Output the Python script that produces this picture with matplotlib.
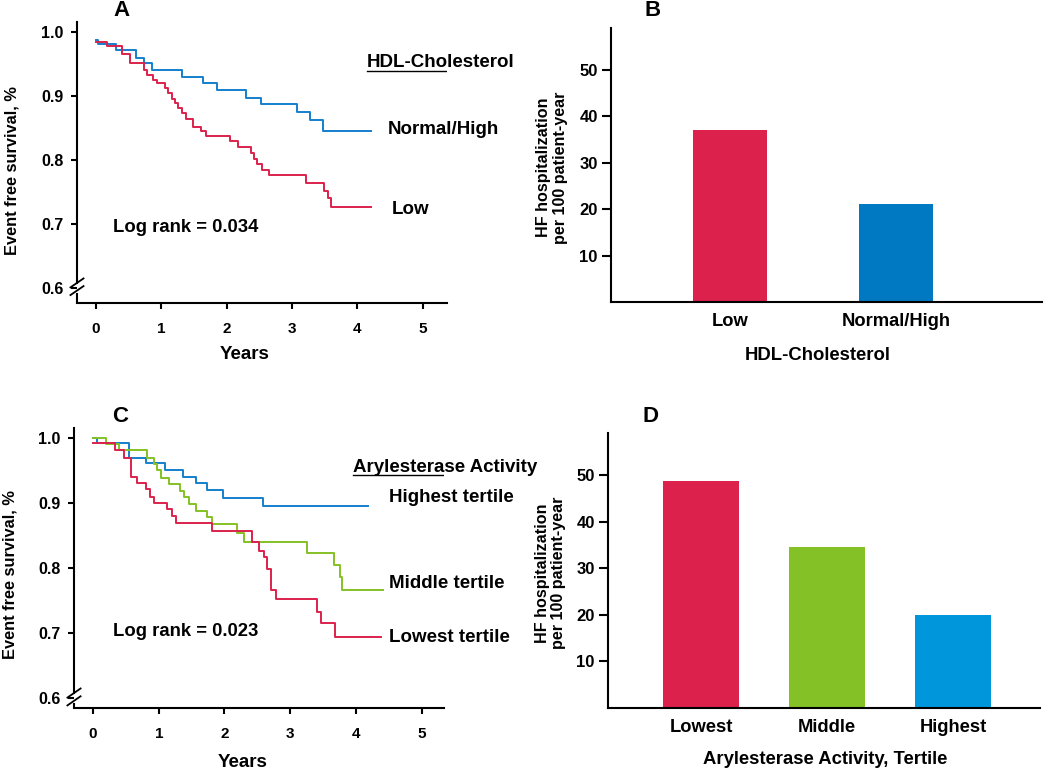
import matplotlib
matplotlib.use("Agg")
import matplotlib.pyplot as plt
import numpy as np

plt.rcParams["font.family"] = ["Liberation Sans", "DejaVu Sans"]
plt.rcParams["font.weight"] = "bold"
plt.rcParams["axes.labelweight"] = "bold"

RED = "#DC214D"
BLUE_LINE = "#1580CC"
BLUE_B = "#0079C2"
BLUE_D = "#0096DC"
GREEN = "#84C126"

# Панель A: кривые Каплана-Мейера по ЛПВП
hdl_high_t = [0, 0.03, 0.30, 0.62, 0.74, 0.86, 1.32, 1.63, 1.85, 2.29, 2.53, 3.07, 3.27, 3.47, 4.2]
hdl_high_s = [0.988, 0.982, 0.972, 0.960, 0.952, 0.940, 0.930, 0.920, 0.909, 0.897, 0.887, 0.875, 0.863, 0.846, 0.846]
hdl_low_t = [0, 0.17, 0.40, 0.52, 0.74, 0.78, 0.88, 0.93, 1.05, 1.10, 1.16, 1.21, 1.26, 1.32, 1.37,
             1.48, 1.61, 1.68, 2.05, 2.18, 2.37, 2.41, 2.47, 2.54, 2.64, 3.22, 3.49, 3.55, 3.59, 4.2]
hdl_low_s = [0.984, 0.978, 0.966, 0.952, 0.940, 0.933, 0.925, 0.920, 0.912, 0.904, 0.896, 0.889, 0.881, 0.873, 0.864,
             0.851, 0.845, 0.838, 0.829, 0.821, 0.811, 0.802, 0.794, 0.785, 0.777, 0.764, 0.752, 0.740, 0.727, 0.727]

# Панель C: кривые по терцилям арилэстеразной активности
aryl_high_t = [0, 0.06, 0.54, 0.80, 1.09, 1.37, 1.57, 1.74, 1.98, 2.58, 4.19]
aryl_high_s = [1.0, 0.992, 0.970, 0.961, 0.951, 0.940, 0.931, 0.920, 0.908, 0.895, 0.895]
aryl_mid_t = [0, 0.20, 0.39, 0.82, 0.92, 0.97, 1.04, 1.15, 1.33, 1.38, 1.46, 1.56, 1.73, 1.81,
              2.19, 2.29, 3.25, 3.66, 3.76, 3.79, 4.41]
aryl_mid_s = [1.0, 0.991, 0.981, 0.970, 0.960, 0.951, 0.939, 0.930, 0.919, 0.909, 0.898, 0.888, 0.878, 0.868,
              0.854, 0.840, 0.823, 0.805, 0.786, 0.766, 0.766]
aryl_low_t = [0, 0.34, 0.47, 0.58, 0.67, 0.81, 0.87, 0.93, 1.13, 1.20, 1.26, 1.81, 2.42, 2.52, 2.60,
              2.65, 2.70, 2.78, 3.40, 3.47, 3.68, 4.38]
aryl_low_s = [0.992, 0.982, 0.970, 0.940, 0.931, 0.922, 0.910, 0.900, 0.891, 0.880, 0.869, 0.857, 0.840, 0.827, 0.817,
              0.799, 0.767, 0.753, 0.733, 0.716, 0.694, 0.694]

# Панели B и D: частота госпитализаций
hdl_groups = ["Low", "Normal/High"]
hdl_rates = [37.0, 21.2]
aryl_groups = ["Lowest", "Middle", "Highest"]
aryl_rates = [48.7, 34.5, 20.0]

km_yticks = [0.6, 0.7, 0.8, 0.9, 1.0]
km_xticks = [0, 1, 2, 3, 4, 5]
bar_yticks = [10, 20, 30, 40, 50]

W, H = 1050, 771
fig = plt.figure(figsize=(W / 100, H / 100), dpi=100)


def px_axes(left, right, top, bottom):
    return fig.add_axes([left / W, (H - bottom) / H, (right - left) / W, (bottom - top) / H])


def style_km(ax, xlim, ylim):
    ax.set_xlim(*xlim)
    ax.set_ylim(*ylim)
    for s in ["top", "right"]:
        ax.spines[s].set_visible(False)
    for s in ["left", "bottom"]:
        ax.spines[s].set_linewidth(1.5)
    ax.set_yticks(km_yticks)
    ax.set_yticklabels([f"{v:.1f}" for v in km_yticks])
    ax.set_xticks(km_xticks)
    ax.tick_params(axis="y", length=4.5, width=1.5, pad=5, labelsize=11.5)
    ax.tick_params(axis="x", length=4.5, width=1.5, pad=9, labelsize=11)
    ax.set_ylabel("Event free survival, %", fontsize=11.8)
    ax.set_xlabel("Years", fontsize=13.5)
    ax.xaxis.label.set_va("center")
    ax.yaxis.label.set_va("center")
    # разрыв оси у значения 0.6
    ax.spines["left"].set_bounds(0.608, ylim[1])
    ax.plot([xlim[0], xlim[0]], [ylim[0], 0.592], color="black", lw=1.5, clip_on=False,
            solid_capstyle="butt")
    for dy in (0.0, 0.012):
        ax.plot([xlim[0] - 0.1, xlim[0] + 0.1], [0.589 + dy, 0.603 + dy], color="black",
                lw=1.3, clip_on=False)


def underline_text(ax, x, y, s):
    t = ax.text(x, y, s, fontsize=13.5, ha="left", va="center")
    fig.canvas.draw()
    bb = t.get_window_extent(renderer=fig.canvas.get_renderer())
    inv = ax.transData.inverted()
    (x0, y0), (x1, _) = inv.transform([(bb.x0, bb.y0), (bb.x1, bb.y0)])
    ax.plot([x0, x1], [y0 + 0.001, y0 + 0.001], color="black", lw=1.0)


def style_bar(ax, xlim):
    ax.set_xlim(*xlim)
    ax.set_ylim(0, 59)
    for s in ["top", "right"]:
        ax.spines[s].set_visible(False)
    for s in ["left", "bottom"]:
        ax.spines[s].set_linewidth(1.5)
    ax.set_yticks(bar_yticks)
    ax.tick_params(axis="y", length=6.5, width=1.5, pad=3, labelsize=12)
    ax.tick_params(axis="x", length=0, pad=8, labelsize=13.2)
    ax.set_ylabel("HF hospitalization\nper 100 patient-year", fontsize=11.6, linespacing=1.1)
    ax.xaxis.label.set_va("center")
    ax.yaxis.label.set_va("center")


# ---- A ----
axA = px_axes(77, 447, 22, 303)
axA.step(hdl_high_t, hdl_high_s, where="post", color=BLUE_LINE, lw=1.4)
axA.step(hdl_low_t, hdl_low_s, where="post", color=RED, lw=1.4)
style_km(axA, (-0.29, 5.37), (0.5766, 1.0156))
axA.yaxis.set_label_coords(-0.176, 0.473)
axA.xaxis.set_label_coords(0.454, -0.185)
axA.text(4.46, 0.847, "Normal/High", fontsize=13.5, ha="left", va="center")
axA.text(4.52, 0.722, "Low", fontsize=13.5, ha="left", va="center")
axA.text(0.26, 0.694, "Log rank = 0.034", fontsize=13.3, ha="left", va="center")

# ---- B ----
axB = px_axes(611, 1042, 28, 302)
xb = np.arange(len(hdl_groups))
axB.bar(xb, hdl_rates, width=0.45, color=[RED, BLUE_B])
axB.set_xticks(xb)
axB.set_xticklabels(hdl_groups)
style_bar(axB, (-0.717, 1.88))
axB.set_xlabel("HDL-Cholesterol", fontsize=13.3)
axB.yaxis.set_label_coords(-0.137, 0.49)
axB.xaxis.set_label_coords(0.48, -0.197)

# ---- C ----
axC = px_axes(74, 444, 428, 708)
axC.step(aryl_high_t, aryl_high_s, where="post", color=BLUE_LINE, lw=1.4)
axC.step(aryl_mid_t, aryl_mid_s, where="post", color=GREEN, lw=1.4)
axC.step(aryl_low_t, aryl_low_s, where="post", color=RED, lw=1.4)
style_km(axC, (-0.29, 5.34), (0.585, 1.0154))
axC.yaxis.set_label_coords(-0.173, 0.475)
axC.xaxis.set_label_coords(0.457, -0.193)
axC.text(4.5, 0.908, "Highest tertile", fontsize=13.5, ha="left", va="center")
axC.text(4.5, 0.777, "Middle tertile", fontsize=13.5, ha="left", va="center")
axC.text(4.5, 0.694, "Lowest tertile", fontsize=13.5, ha="left", va="center")
axC.text(0.30, 0.702, "Log rank = 0.023", fontsize=13.3, ha="left", va="center")

# ---- D ----
axD = px_axes(608, 1040, 433, 708)
xd = np.arange(len(aryl_groups))
axD.bar(xd, aryl_rates, width=0.6, color=[RED, GREEN, BLUE_D])
axD.set_xticks(xd)
axD.set_xticklabels(aryl_groups)
style_bar(axD, (-0.74, 2.69))
axD.set_xlabel("Arylesterase Activity, Tertile", fontsize=13.3)
axD.yaxis.set_label_coords(-0.134, 0.49)
axD.xaxis.set_label_coords(0.502, -0.189)

# подписи панелей
for lab, x, y in [("A", 122, 11), ("B", 653, 10), ("C", 120, 417), ("D", 650, 416)]:
    fig.text(x / W, 1 - y / H, lab, fontsize=16, ha="center", va="center")

underline_text(axA, 4.15, 0.952, "HDL-Cholesterol")
underline_text(axC, 3.96, 0.955, "Arylesterase Activity")

fig.savefig("out.png", dpi=100)
